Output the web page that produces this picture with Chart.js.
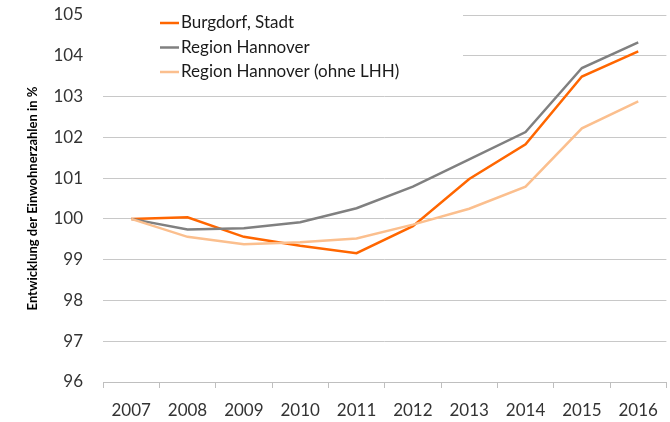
<!DOCTYPE html>
<html lang="de">

<head>
    <meta charset="UTF-8">
    <title>Entwicklung der Einwohnerzahlen</title>
    <script src="https://cdn.jsdelivr.net/npm/chart.js"></script>
    <style>
        body { margin: 0; background: #fff; }
        #wrap { width: 670px; height: 422px; }
    </style>
</head>

<body>
    <div id="wrap"><canvas id="einwohnerChart"></canvas></div>

    <script>
        // Werte (2007 = 100)
        const years = ['2007', '2008', '2009', '2010', '2011', '2012', '2013', '2014', '2015', '2016'];
        const burgdorf = [100, 100.04, 99.56, 99.34, 99.16, 99.82, 100.98, 101.83, 103.49, 104.11];
        const regionHannover = [100, 99.74, 99.77, 99.92, 100.26, 100.79, 101.46, 102.13, 103.70, 104.33];
        const regionOhneLHH = [100, 99.56, 99.38, 99.43, 99.52, 99.86, 100.25, 100.79, 102.22, 102.88];

        const seriesNames = ['Burgdorf, Stadt', 'Region Hannover', 'Region Hannover (ohne LHH)'];
        const seriesColors = ['#ff6600', '#808080', '#fbbf8e'];

        const fontFamily = 'Lato, "Open Sans", sans-serif';

        // Legende im Diagramm, mit weissem Hintergrund ueber den Gitterlinien
        const innerLegend = {
            id: 'innerLegend',
            beforeDatasetsDraw(chart) {
                const ctx = chart.ctx;
                ctx.save();
                ctx.fillStyle = '#fff';
                ctx.fillRect(chart.chartArea.left, 0, 360, 80);
                ctx.font = '17px ' + fontFamily;
                ctx.textBaseline = 'middle';
                seriesNames.forEach((name, i) => {
                    const y = 23 + i * 24.5;
                    ctx.strokeStyle = seriesColors[i];
                    ctx.lineWidth = 2.5;
                    ctx.beginPath();
                    ctx.moveTo(160, y);
                    ctx.lineTo(179, y);
                    ctx.stroke();
                    ctx.fillStyle = '#1a1a1a';
                    ctx.fillText(name, 181, y);
                });
                ctx.restore();
            }
        };

        const ctx = document.getElementById('einwohnerChart').getContext('2d');
        const myChart = new Chart(ctx, {
            type: 'line',
            data: {
                labels: years,
                datasets: [burgdorf, regionHannover, regionOhneLHH].map((values, i) => ({
                    label: seriesNames[i],
                    data: values,
                    borderColor: seriesColors[i],
                    backgroundColor: seriesColors[i],
                    borderWidth: 2.5,
                    pointRadius: 0,
                    tension: 0
                })).reverse()
            },
            options: {
                responsive: true,
                maintainAspectRatio: false,
                animation: false,
                layout: {
                    padding: { top: 0, right: 1, left: 0, bottom: 0 }
                },
                plugins: {
                    legend: { display: false },
                    tooltip: { enabled: false }
                },
                scales: {
                    x: {
                        offset: true,
                        afterFit: scale => { scale.height = 40; },
                        grid: {
                            offset: true,
                            drawOnChartArea: false,
                            drawTicks: true,
                            tickLength: 6,
                            color: '#bfbfbf'
                        },
                        border: { display: true, color: '#bfbfbf', width: 1 },
                        ticks: {
                            font: { family: fontFamily, size: 17 },
                            color: '#333',
                            padding: 12,
                            maxRotation: 0
                        }
                    },
                    y: {
                        min: 96,
                        max: 105,
                        afterFit: scale => {
                            scale.width = 103;
                            scale.paddingTop = 15;
                        },
                        grid: {
                            drawTicks: false,
                            color: '#c8c8c8',
                            lineWidth: 1
                        },
                        border: { display: false },
                        ticks: {
                            stepSize: 1,
                            font: { family: fontFamily, size: 17 },
                            color: '#333',
                            padding: 20
                        },
                        title: {
                            display: true,
                            text: 'Entwicklung der Einwohnerzahlen in %',
                            font: { family: fontFamily, size: 13, weight: 'bold' },
                            color: '#000',
                            padding: { top: 25, bottom: 0 }
                        }
                    }
                }
            },
            plugins: [innerLegend]
        });
    </script>
</body>

</html>
